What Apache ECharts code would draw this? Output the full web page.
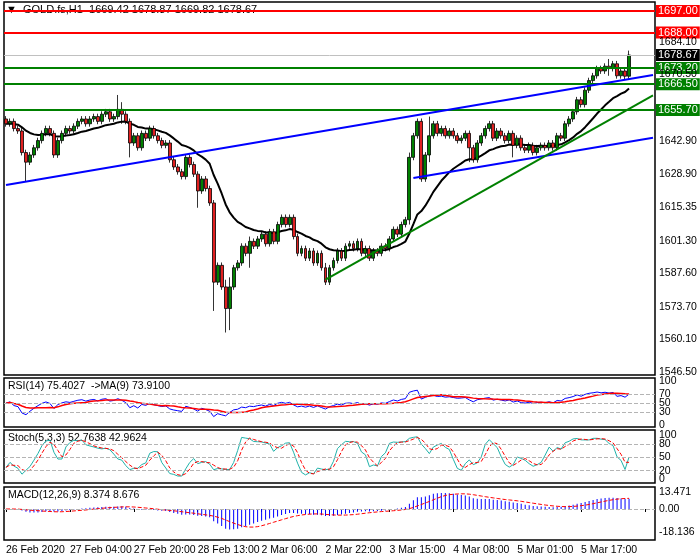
<!DOCTYPE html>
<html>
<head>
<meta charset="utf-8">
<script src="https://cdn.jsdelivr.net/npm/echarts@6/dist/echarts.min.js"></script>
<style>html,body{margin:0;padding:0;background:#fff}#chart{width:700px;height:560px}</style>
</head>
<body>
<div id="chart"></div>
<script>
// Closing prices, GOLD.fs H1
var closes = [
  1650, 1651, 1648, 1647,
  1638, 1634, 1637,
  1640, 1643, 1646, 1648,
  1646, 1637, 1643, 1646, 1648, 1647,
  1649, 1651, 1652, 1650, 1652, 1653, 1651, 1654, 1655, 1652, 1653, 1656, 1654, 1651,
  1642, 1645, 1640, 1646, 1644, 1648, 1645, 1643, 1641, 1642,
  1635, 1632, 1630, 1628, 1636, 1633, 1629, 1622, 1627, 1623, 1617, 1584,
  1591, 1582, 1573, 1582, 1590, 1592, 1599, 1596, 1601, 1599,
  1602, 1604, 1600, 1605, 1601, 1608, 1611, 1608, 1611, 1603,
  1596, 1598, 1594, 1597, 1592, 1596, 1590,
  1584,
  1590, 1593, 1597, 1594, 1599,
  1600, 1598, 1601, 1596, 1598, 1594, 1597, 1596, 1599, 1598,
  1602, 1606, 1604, 1608, 1610,
  1636, 1645, 1651, 1627, 1637, 1645, 1650,
  1646, 1648, 1645, 1647, 1645, 1643, 1644, 1646, 1640, 1635, 1642, 1645, 1648,
  1650, 1644, 1647, 1645, 1643, 1646, 1641, 1644,
  1640, 1639, 1641, 1638, 1640, 1641, 1640, 1642, 1640,
  1645, 1644, 1650, 1652,
  1655, 1660, 1658, 1664, 1668, 1670,
  1673, 1672, 1674, 1673, 1675,
  1670, 1672, 1669.82,
  1678.67
];
var firstOpen = 1652;
// notable wicks: [index, high, low]
var wickOverrides = [
  [5, 1637, 1626], [12, 1647, 1636], [28, 1662, 1652], [29, 1659, 1650], [31, 1652, 1636],
  [48, 1629, 1615], [52, 1618, 1572], [55, 1585, 1563], [56, 1586, 1564], [61, 1603, 1590],
  [80, 1592, 1583], [101, 1638, 1608], [104, 1651, 1626], [106, 1653, 1634], [116, 1646, 1634],
  [127, 1646, 1636], [151, 1677, 1670], [156, 1680.5, 1669]
];
var timeLabels = ['26 Feb 2020', '27 Feb 04:00', '27 Feb 20:00', '28 Feb 13:00', '2 Mar 06:00',
  '2 Mar 22:00', '3 Mar 15:00', '4 Mar 08:00', '5 Mar 01:00', '5 Mar 17:00'];
var priceTicks = ['1684.10', '1670.50', '1642.90', '1628.90', '1615.35', '1601.30', '1587.60', '1573.70', '1560.10', '1546.50'];
var levelsGreen = [1673.20, 1666.50, 1655.70];
var levelsRed = [1697.00, 1688.00];
var lastPrice = 1678.67;
// trend lines: [startIndex, startPrice, endIndex, endPrice]
var blueLines = [[0, 1624.5, 162, 1670.3], [102, 1627.4, 162, 1644.2]];
var greenLines = [[79.5, 1585, 162, 1661.8]];
var rsiTicks = [0, 30, 50, 70, 100];
var stochTicks = [0, 20, 50, 80, 100];
var macdTicks = [13.471, 0.00, -18.136];

var TOTAL = 163, LABEL_STEP = 16;
var cats = [];
for (var i = 0; i < TOTAL; i++) cats.push(i % LABEL_STEP === 0 ? (timeLabels[i / LABEL_STEP] || '') : '');

// OHLC
var ohlc = [], highs = [], lows = [];
var ov = {};
wickOverrides.forEach(function (w) { ov[w[0]] = w; });
for (var i = 0; i < closes.length; i++) {
  var o = i === 0 ? firstOpen : closes[i - 1], c = closes[i];
  var h = Math.max(o, c) + 1.2, l = Math.min(o, c) - 1.2;
  if (ov[i]) { h = Math.max(h, ov[i][1]); l = Math.min(l, ov[i][2]); }
  highs.push(h); lows.push(l);
  ohlc.push([o, c, l, h]);
}

// indicators
function sma(arr, n) {
  return arr.map(function (v, i) {
    var s = 0, k = 0;
    for (var j = Math.max(0, i - n + 1); j <= i; j++) { s += arr[j]; k++; }
    return s / k;
  });
}
function ema(arr, n) {
  var a = 2 / (n + 1), out = [], p = arr[0];
  arr.forEach(function (v) { p = p + a * (v - p); out.push(p); });
  return out;
}
var ma = ema(closes, 20);

var rsi = [], ag = 0, al = 0;
for (var i = 0; i < closes.length; i++) {
  var d = i ? closes[i] - closes[i - 1] : 0;
  var g = Math.max(d, 0), ls = Math.max(-d, 0);
  if (i === 0) { ag = 0.6; al = 0.6; } else { ag = (ag * 13 + g) / 14; al = (al * 13 + ls) / 14; }
  rsi.push(100 - 100 / (1 + ag / al));
}
var rsiMa = sma(rsi, 9);

var kRaw = [];
for (var i = 0; i < closes.length; i++) {
  var hh = -1e9, ll = 1e9;
  for (var j = Math.max(0, i - 4); j <= i; j++) { hh = Math.max(hh, highs[j]); ll = Math.min(ll, lows[j]); }
  kRaw.push({ n: closes[i] - ll, d: hh - ll });
}
var stochK = kRaw.map(function (v, i) {
  var n = 0, d = 0;
  for (var j = Math.max(0, i - 2); j <= i; j++) { n += kRaw[j].n; d += kRaw[j].d; }
  return d ? 100 * n / d : 50;
});
var stochD = sma(stochK, 3);

var e12 = ema(closes, 12), e26 = ema(closes, 26);
var macd = e12.map(function (v, i) { return v - e26[i]; });
var macdSig = sma(macd, 9);

var font = '"Liberation Sans", Arial, sans-serif';
var hidden = { color: 'rgba(0,0,0,0)', width: 1, type: 'solid' };
var dash = { color: '#b4b4b4', type: 'dashed', width: 1 };

function tickLabel(txt) {
  return { show: true, position: 'end', distance: 4, color: '#000', fontSize: 10.5, fontFamily: font, formatter: txt };
}
function tickMarks(vals, fmt) {
  return vals.map(function (v) {
    var txt = fmt ? fmt(v) : String(v);
    return { yAxis: parseFloat(v), lineStyle: hidden, label: tickLabel(txt) };
  });
}
function dashed(vals) {
  return vals.map(function (v) { return { yAxis: v, lineStyle: dash, label: { show: false } }; });
}
function segs(list, color) {
  return list.map(function (s) {
    return [{ coord: [s[0], s[1]], lineStyle: { color: color, width: 2, type: 'solid' }, label: { show: false } }, { coord: [s[2], s[3]] }];
  });
}
function boxLbl(bg) {
  return { show: true, position: 'end', distance: 1, color: '#fff', backgroundColor: bg, fontSize: 11, fontFamily: font, padding: [1, 2, 0, 2], formatter: function (p) { return p.value.toFixed(2); } };
}

var chart = echarts.init(document.getElementById('chart'));

var grids = [
  { left: 4, right: 45, top: 2, height: 373 },
  { left: 4, right: 45, top: 378, height: 49 },
  { left: 4, right: 45, top: 430, height: 53 },
  { left: 4, right: 45, top: 487, height: 53 }
].map(function (g) { g.show = true; g.borderColor = '#000'; g.borderWidth = 1.5; g.backgroundColor = '#fff'; return g; });

var xAxes = [0, 1, 2, 3].map(function (k) {
  return {
    type: 'category', gridIndex: k, data: cats, boundaryGap: true,
    axisLine: { show: false },
    axisTick: { show: k === 3, alignWithLabel: true, interval: function (i) { return i % LABEL_STEP === 0; }, length: 3, lineStyle: { color: '#000' } },
    axisLabel: { show: k === 3, showMinLabel: true, hideOverlap: false, interval: function (i) { return i % LABEL_STEP === 0; }, align: 'left', color: '#000', fontSize: 10.5, fontFamily: font, margin: 5 },
    splitLine: { show: false }
  };
});
var yAxes = [
  { min: 1545.3, max: 1700.75 }, { min: -5, max: 108 }, { min: -8, max: 112 }, { min: -24.5, max: 17.4 }
].map(function (r, k) {
  return { type: 'value', gridIndex: k, position: 'right', min: r.min, max: r.max, axisLabel: { show: false }, axisLine: { show: false }, axisTick: { show: false }, splitLine: { show: false } };
});

chart.setOption({
  animation: false,
  textStyle: { fontFamily: font },
  grid: grids,
  xAxis: xAxes,
  yAxis: yAxes,
  graphic: [
    { type: 'text', left: 6, top: 4, z: 0, style: { text: '\u25BC  GOLD.fs,H1  1669.42 1678.87 1669.82 1678.67', fill: '#000', fontSize: 11, fontFamily: font } },
    { type: 'text', left: 8, top: 381, style: { text: 'RSI(14) 75.4027  ->MA(9) 73.9100', fill: '#000', fontSize: 10.5, fontFamily: font } },
    { type: 'text', left: 8, top: 433, style: { text: 'Stoch(5,3,3) 52.7638 42.9624', fill: '#000', fontSize: 10.5, fontFamily: font } },
    { type: 'text', left: 8, top: 490, style: { text: 'MACD(12,26,9) 8.374 8.676', fill: '#000', fontSize: 10.5, fontFamily: font } }
  ],
  series: [
    {
      type: 'line', name: 'MA', xAxisIndex: 0, yAxisIndex: 0, data: ma, symbol: 'none', z: 2,
      lineStyle: { color: '#000', width: 2 },
      markLine: { silent: true, symbol: 'none', data: tickMarks(priceTicks) }
    },
    {
      type: 'candlestick', xAxisIndex: 0, yAxisIndex: 0, data: ohlc, barWidth: 3.4, z: 3,
      itemStyle: { color: '#008000', color0: '#e02020', borderColor: '#000', borderColor0: '#000', borderWidth: 0.8 },
      markLine: {
        silent: true, symbol: 'none', z: 4,
        data: [{ yAxis: lastPrice, lineStyle: { color: '#c0c0c0', width: 1, type: 'solid' }, label: boxLbl('#000') }]
          .concat(levelsGreen.map(function (v) { return { yAxis: v, lineStyle: { color: '#008000', width: 2, type: 'solid' }, label: boxLbl('#008000') }; }))
          .concat(levelsRed.map(function (v) { return { yAxis: v, lineStyle: { color: '#ff0000', width: 2, type: 'solid' }, label: boxLbl('#ff0000') }; }))
          .concat(segs(blueLines, '#0000ff'))
          .concat(segs(greenLines, '#008000'))
      }
    },
    // RSI
    {
      type: 'line', xAxisIndex: 1, yAxisIndex: 1, data: rsi, symbol: 'none', lineStyle: { color: '#0000ff', width: 1 },
      markLine: { silent: true, symbol: 'none', data: dashed([30, 50, 70]).concat(tickMarks(rsiTicks)) }
    },
    { type: 'line', xAxisIndex: 1, yAxisIndex: 1, data: rsiMa, symbol: 'none', lineStyle: { color: '#ff0000', width: 1.5 } },
    // Stoch
    {
      type: 'line', xAxisIndex: 2, yAxisIndex: 2, data: stochK, symbol: 'none', lineStyle: { color: '#20b2aa', width: 1 },
      markLine: { silent: true, symbol: 'none', data: dashed([20, 50, 80]).concat(tickMarks(stochTicks)) }
    },
    { type: 'line', xAxisIndex: 2, yAxisIndex: 2, data: stochD, symbol: 'none', lineStyle: { color: '#ff0000', width: 1, type: 'dashed' } },
    // MACD
    {
      type: 'bar', xAxisIndex: 3, yAxisIndex: 3, data: macd, barWidth: 1, itemStyle: { color: '#0000ff' },
      markLine: { silent: true, symbol: 'none', data: dashed([0]).concat(tickMarks(macdTicks, function (v) { return v === 0 ? '0.00' : String(v); })) }
    },
    { type: 'line', xAxisIndex: 3, yAxisIndex: 3, data: macdSig, symbol: 'none', lineStyle: { color: '#ff0000', width: 1, type: 'dashed' } }
  ]
});
</script>
</body>
</html>
